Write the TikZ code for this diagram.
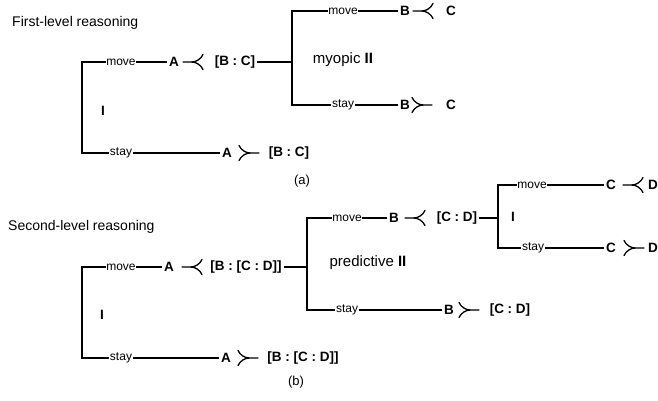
\documentclass[tikz,border=0pt]{standalone}
\usepackage{fontspec}
\setmainfont{Liberation Sans}
\begin{document}
\begin{tikzpicture}[x=1pt,y=-1pt,
  heading/.style={anchor=west,inner sep=0pt,font=\fontsize{14}{16}\selectfont},
  act/.style={inner sep=0.6pt,font=\fontsize{12}{14}\selectfont},
  term/.style={inner sep=2pt,font=\bfseries\fontsize{13.5}{16}\selectfont},
  note/.style={inner sep=1pt,font=\fontsize{15}{18}\selectfont},
  caption/.style={inner sep=1pt,font=\fontsize{13}{15}\selectfont},
  branch/.style={line width=1.3pt},
  sym/.style={line width=1.3pt,line cap=round},
  % preference relation: tail on the left, fork opening to the right
  preL/.pic={\draw[sym] (-10,0) -- (-1,0)
               .. controls (3,0) and (8,-3) .. (10,-7.5);
             \draw[sym] (-1,0) .. controls (3,0) and (8,3) .. (10,7.5);},
  % preference relation: fork opening to the left, tail on the right
  preR/.pic={\draw[sym] (10,0) -- (1,0)
               .. controls (-3,0) and (-8,-3) .. (-10,-7.5);
             \draw[sym] (1,0) .. controls (-3,0) and (-8,3) .. (-10,7.5);}
]
\useasboundingbox (0,0) rectangle (658,400);

% ---------------- (a) first-level reasoning ----------------
\node[heading] (title1) at (12,23) {First-level reasoning};

\coordinate (ra_t) at (82,62);
\coordinate (ra_b) at (82,153);
\node[act]  (mvA)  at (121,62) {move};
\node[term] (A1)   at (174,62) {A};
\pic at (193,62) {preL};
\node[term] (BC1)  at (235,62) {[B : C]};

\coordinate (ja)   at (292,62);
\coordinate (ja_t) at (292,11);
\coordinate (ja_b) at (292,105);
\node[act]  (mvB)  at (343,11) {move};
\node[term] (B1u)  at (405,11) {B};
\pic at (423,11) {preL};
\node[term] (C1u)  at (451,11) {C};
\node[note] (myo)  at (343,60) {myopic \textbf{II}};
\node[act]  (stB)  at (343,105) {stay};
\node[term] (B1d)  at (405,105) {B};
\pic at (422,105) {preR};
\node[term] (C1d)  at (451,105) {C};

\node[term] (I1)   at (103,111) {I};
\node[act]  (stA)  at (121,153) {stay};
\node[term] (A1d)  at (227,153) {A};
\pic at (249,153) {preR};
\node[term] (BC1d) at (289,153) {[B : C]};
\node[caption] (capa) at (302,181) {(a)};

\draw[branch] (mvA.west) -- (ra_t) -- (ra_b) -- (stA.west);
\draw[branch] (mvA.east) -- (A1.west);
\draw[branch] (stA.east) -- (A1d.west);
\draw[branch] (BC1.east) -- (ja);
\draw[branch] (mvB.west) -- (ja_t) -- (ja_b) -- (stB.west);
\draw[branch] (mvB.east) -- (B1u.west);
\draw[branch] (stB.east) -- (B1d.west);

% ---------------- (b) second-level reasoning ----------------
\node[heading] (title2) at (8,227) {Second-level reasoning};

\coordinate (rb_t) at (82,267);
\coordinate (rb_b) at (82,358);
\node[act]  (mvA2) at (121,267) {move};
\node[term] (A2)   at (169,267) {A};
\pic at (192,267) {preL};
\node[term] (BCD2) at (246,267) {[B : [C : D]]};

\coordinate (jb)   at (307,267);
\coordinate (jb_t) at (307,218);
\coordinate (jb_b) at (307,310);
\node[act]  (mvB2) at (347,218) {move};
\node[term] (B2)   at (394,218) {B};
\pic at (415,218) {preL};
\node[term] (CD2)  at (457,218) {[C : D]};
\node[note] (pred) at (368,263) {predictive \textbf{II}};
\node[act]  (stB2) at (347,310) {stay};
\node[term] (B2d)  at (449,310) {B};
\pic at (469,310) {preR};
\node[term] (CD2d) at (510,310) {[C : D]};

\coordinate (jc)   at (498,218);
\coordinate (jc_t) at (498,185);
\coordinate (jc_b) at (498,248);
\node[term] (I2b)  at (513,217) {I};
\node[act]  (mvC)  at (532,185) {move};
\node[term] (C2u)  at (611,185) {C};
\pic at (633,185) {preL};
\node[term] (D2u)  at (653,185) {D};
\node[act]  (stC)  at (533,248) {stay};
\node[term] (C2d)  at (611,248) {C};
\pic at (634,248) {preR};
\node[term] (D2d)  at (653,248) {D};

\node[term] (I2)   at (102,315) {I};
\node[act]  (stA2) at (121,358) {stay};
\node[term] (A2d)  at (226,358) {A};
\pic at (248,358) {preR};
\node[term] (BCD2d) at (303,358) {[B : [C : D]]};
\node[caption] (capb) at (296,382) {(b)};

\draw[branch] (mvA2.west) -- (rb_t) -- (rb_b) -- (stA2.west);
\draw[branch] (mvA2.east) -- (A2.west);
\draw[branch] (stA2.east) -- (A2d.west);
\draw[branch] (BCD2.east) -- (jb);
\draw[branch] (mvB2.west) -- (jb_t) -- (jb_b) -- (stB2.west);
\draw[branch] (mvB2.east) -- (B2.west);
\draw[branch] (stB2.east) -- (B2d.west);
\draw[branch] (CD2.east) -- (jc);
\draw[branch] (mvC.west) -- (jc_t) -- (jc_b) -- (stC.west);
\draw[branch] (mvC.east) -- (C2u.west);
\draw[branch] (stC.east) -- (C2d.west);
\end{tikzpicture}
\end{document}
